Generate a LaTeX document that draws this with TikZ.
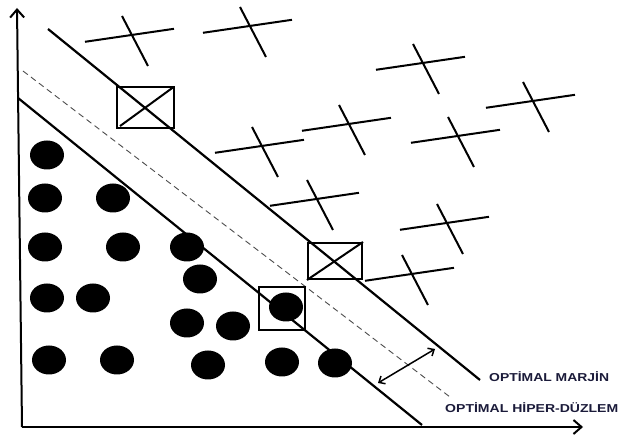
\documentclass[tikz,border=0pt]{standalone}
\usepackage{fontspec}
\setmainfont{Liberation Sans}
\usetikzlibrary{arrows.meta, shapes.geometric}
\definecolor{labelink}{HTML}{1B1B3A}

\begin{document}
\begin{tikzpicture}[x=1pt, y=-1pt, >={Straight Barb[length=8pt,width=14pt]},
    dot/.style={ellipse, fill, inner sep=0pt, minimum width=34pt, minimum height=29pt},
    svbox/.style={draw, line width=2pt, inner sep=0pt},
    plane/.style={line width=2.2pt},
    lbl/.style={font=\bfseries\fontsize{11.5}{11.5}\selectfont, text=labelink, anchor=west, inner sep=0pt},
    xmark/.pic={\draw[line width=2pt] (-47,6.8) -- (42,-6.2); \draw[line width=2pt] (-10,-19) -- (16,31);}]
  \useasboundingbox (0,0) rectangle (622,435);
  \coordinate (o) at (22,427);
  \coordinate (ytop) at (17,8);
  \coordinate (xend) at (583,427);
  \draw[line width=2pt, ->] (o) -- (ytop);
  \draw[line width=2pt, ->] (o) -- (xend);
  \coordinate (m1a) at (48,29);
  \coordinate (m1b) at (480,380);
  \coordinate (m2a) at (18,98);
  \coordinate (m2b) at (422,425);
  \coordinate (ha) at (23,71);
  \coordinate (hb) at (450,397);
  \draw[plane] (m1a) -- (m1b);
  \draw[plane] (m2a) -- (m2b);
  \draw[gray!60!black, line width=0.9pt, dash pattern=on 6pt off 4pt] (ha) -- (hb);
  \coordinate (wa) at (378,383);
  \coordinate (wb) at (435,349);
  \draw[line width=1.5pt, {Straight Barb[length=5pt,width=9pt]}-{Straight Barb[length=5pt,width=9pt]}] (wa) -- (wb);
  \foreach \p [count=\i] in {(132,35),(250,26),(423,63),(533,101),(349,124),(458,136),(262,146),(317,199),(447,223),(412,274)}
    \pic (c\i) at \p {xmark};
  \node[svbox, minimum width=57pt, minimum height=41pt] (s1) at (145.5,107.5) {};
  \node[svbox, minimum width=54pt, minimum height=36pt] (s2) at (335,261) {};
  \node[svbox, minimum width=46pt, minimum height=43pt] (s3) at (282,308.5) {};
  \draw[line width=2pt, shorten <=5pt, shorten >=2pt] (s1.south west) -- (s1.north east);
  \draw[line width=2pt] (s2.south west) -- (s2.north east);
  \foreach \p [count=\i] in {(47,155),(45,198),(113,198),(45,247),(123,247),(187,247),(200,279),(47,298),(93,298),(187,323),(233,326),(286,307),(49,360),(117,360),(208,365),(282,362),(335,363)}
    \node[dot] (d\i) at \p {};
  \node[lbl, xscale=1.21] (marjin) at (489,376.5) {OPTİMAL MARJİN};
  \node[lbl, xscale=1.22] (hiper) at (445,408) {OPTİMAL HİPER-DÜZLEM};
\end{tikzpicture}
\end{document}
